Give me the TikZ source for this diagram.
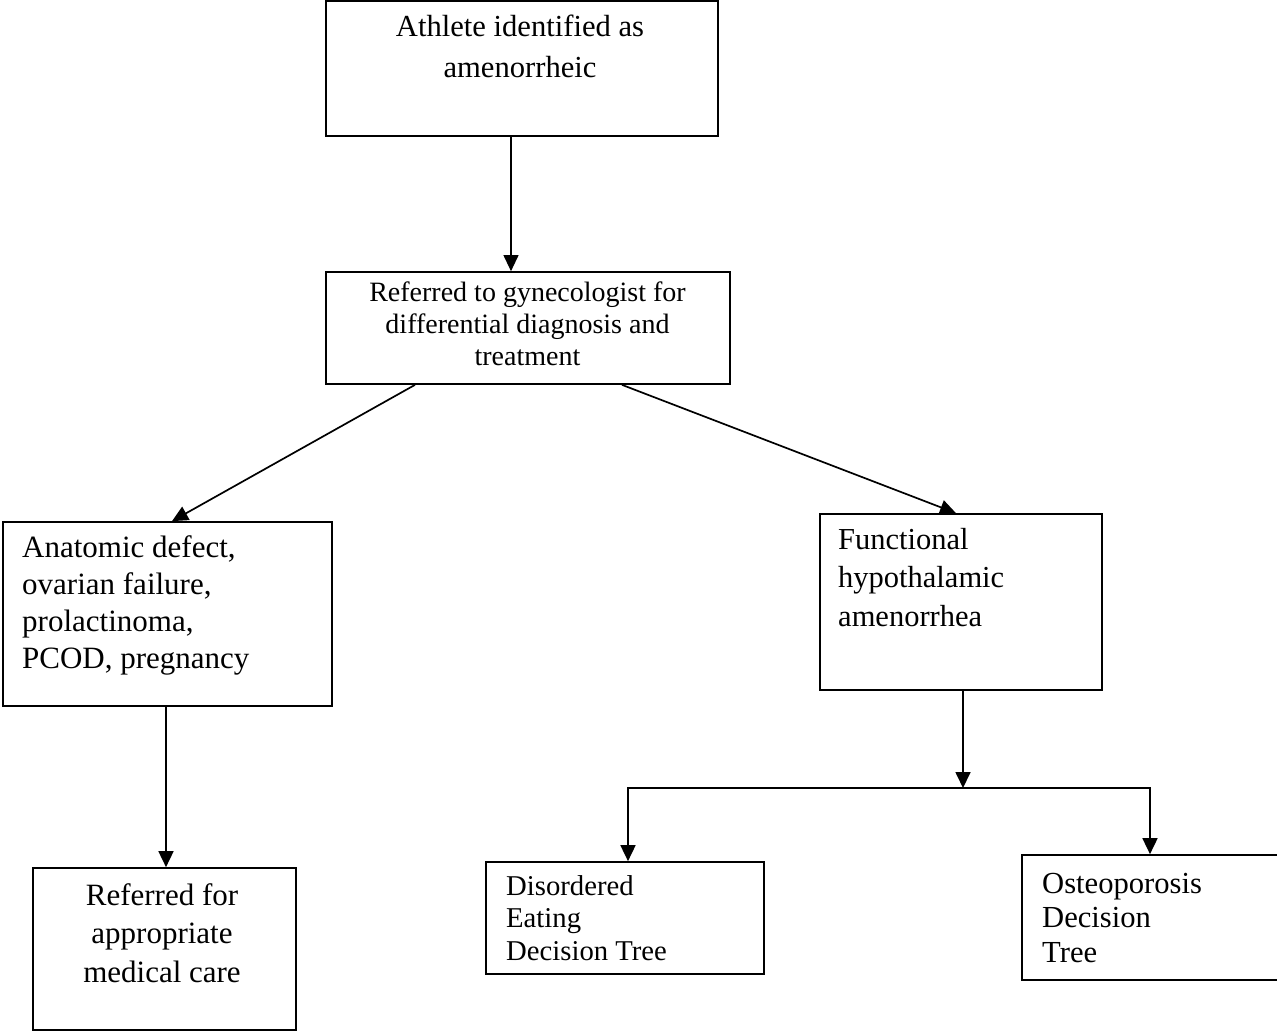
\documentclass[tikz,border=0pt]{standalone}
\usepackage{fontspec}
\setmainfont{Liberation Serif}
\usetikzlibrary{arrows.meta}
\begin{document}
\begin{tikzpicture}[x=1pt,y=-1pt,
  box/.style={draw, line width=1.7pt, rectangle, inner sep=0pt},
  lbl/.style={inner sep=0pt},
  conn/.style={line width=1.7pt, -{Triangle[length=16pt,width=15pt]}},
  thinconn/.style={line width=1.1pt, -{Triangle[length=16pt,width=15pt]}},
  plain/.style={line width=1.7pt, line cap=rect}]
\clip (0,0) rectangle (1277,1034);
% boxes
\node[box, minimum width=392pt, minimum height=135pt] (b1) at (522,68.5) {};
\node[box, minimum width=404pt, minimum height=112pt] (b2) at (528,328) {};
\node[box, minimum width=329pt, minimum height=184pt] (b3) at (167.5,614) {};
\node[box, minimum width=282pt, minimum height=176pt] (b4) at (961,602) {};
\node[box, minimum width=263pt, minimum height=162pt] (b5) at (164.5,949) {};
\node[box, minimum width=278pt, minimum height=112pt] (b6) at (625,918) {};
\node[box, minimum width=270pt, minimum height=125pt] (b7) at (1157,917.5) {};
% texts
\node[lbl, anchor=base] (t1) at (520,36) {\parbox[t]{400pt}{\centering\fontsize{30.6}{41}\selectfont Athlete identified as\\amenorrheic}};
\node[lbl, anchor=base] (t2) at (527.5,301) {\parbox[t]{400pt}{\centering\fontsize{28}{32}\selectfont Referred to gynecologist for\\differential diagnosis and\\treatment}};
\node[lbl, anchor=base west] (t3) at (22,557) {\parbox[t]{300pt}{\raggedright\fontsize{31}{37}\selectfont Anatomic defect,\\ovarian failure,\\prolactinoma,\\PCOD, pregnancy}};
\node[lbl, anchor=base west] (t4) at (838,549) {\parbox[t]{260pt}{\raggedright\fontsize{30.5}{38.5}\selectfont Functional\\hypothalamic\\amenorrhea}};
\node[lbl, anchor=base] (t5) at (162,905) {\parbox[t]{250pt}{\centering\fontsize{31}{38.5}\selectfont Referred for\\appropriate\\medical care}};
\node[lbl, anchor=base west] (t6) at (506,895) {\parbox[t]{250pt}{\raggedright\fontsize{28.7}{32.5}\selectfont Disordered\\Eating\\Decision Tree}};
\node[lbl, anchor=base west] (t7) at (1042,893) {\parbox[t]{230pt}{\raggedright\fontsize{30.6}{34.5}\selectfont Osteoporosis\\Decision\\Tree}};
% connectors
\coordinate (j) at (963,788);
\coordinate (jl) at (628,788);
\coordinate (jr) at (1150,788);
\draw[thinconn] ([xshift=-11pt]b1.south) -- ([xshift=-17pt]b2.north);
\draw[conn] ([xshift=-113pt]b2.south) -- ([xshift=4.5pt]b3.north);
\draw[conn] ([xshift=94pt]b2.south) -- ([xshift=-5pt]b4.north);
\draw[conn] ([xshift=-1.5pt]b3.south) -- ([xshift=1.5pt]b5.north);
\draw[conn] ([xshift=2pt]b4.south) -- (j);
\draw[plain] (jl) -- (jr);
\draw[conn] (jl) -- (jl |- b6.north);
\draw[conn] (jr) -- (jr |- b7.north);
\end{tikzpicture}
\end{document}
